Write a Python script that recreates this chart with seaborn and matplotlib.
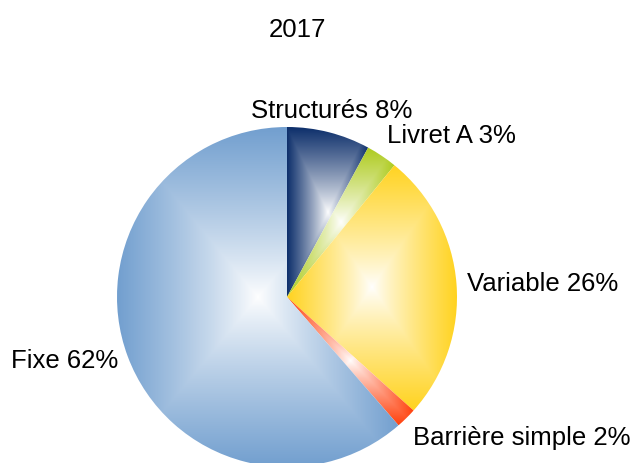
import numpy as np
import matplotlib
matplotlib.use("Agg")
import matplotlib.pyplot as plt
import seaborn as sns
from matplotlib.colors import to_rgb

# --- data ---
labels = ["Structurés", "Livret A", "Variable", "Barrière simple", "Fixe"]
shares = [8, 3, 26, 2, 62]
colors = ["#0d2f6b", "#aecb1e", "#ffd320", "#ff420e", "#729fcf"]
title = "2017"


def main() -> int:
    sns.set_theme(style="white")
    plt.rcParams["font.family"] = ["Liberation Sans", "DejaVu Sans"]

    fig = plt.figure(figsize=(6.3, 4.64), dpi=100)
    ax = fig.add_axes([117 / 630, -4 / 464, 340 / 630, 340 / 464])

    palette = sns.color_palette(colors)
    wedges, texts = ax.pie(
        shares,
        labels=[f"{l} {v}%" for l, v in zip(labels, shares)],
        startangle=90,
        counterclock=False,
        labeldistance=1.06,
        colors=palette,
        textprops=dict(fontsize=18.5, color="black"),
    )
    # label box corner nearest to the pie sits on the anchor point
    for t in texts:
        x, y = t.get_position()
        if abs(x) < 0.5:
            t.set_ha("center")
        if y > 0.5:
            t.set_va("bottom")
        elif y < -0.5:
            t.set_va("top")

    # rectangular gradient per wedge: white in the middle of its bbox
    for w, col in zip(wedges, palette):
        bb = w.get_path().get_extents()
        xs = np.linspace(bb.x0, bb.x1, 300)
        ys = np.linspace(bb.y0, bb.y1, 300)
        X, Y = np.meshgrid(xs, ys)
        cx, cy = (bb.x0 + bb.x1) / 2, (bb.y0 + bb.y1) / 2
        hw, hh = max(bb.width / 2, 1e-6), max(bb.height / 2, 1e-6)
        t = np.maximum(np.abs(X - cx) / hw, np.abs(Y - cy) / hh)
        t = np.clip(t, 0, 1) ** 0.85
        rgb = np.array(to_rgb(col))
        img = (1 - t[..., None]) * 1.0 + t[..., None] * rgb
        im = ax.imshow(
            img,
            extent=[bb.x0, bb.x1, bb.y0, bb.y1],
            origin="lower",
            interpolation="bilinear",
            zorder=1,
        )
        im.set_clip_path(w)
        w.set_facecolor("none")
        w.set_edgecolor("none")

    ax.set_xlim(-1, 1)
    ax.set_ylim(-1, 1)
    ax.set_axis_off()

    fig.text(297 / 630, 1 - 30 / 464, title, ha="center", va="center",
             fontsize=18.5, color="black")

    fig.savefig("out.png", dpi=100)
    plt.close(fig)
    return 0


if __name__ == "__main__":
    raise SystemExit(main())
